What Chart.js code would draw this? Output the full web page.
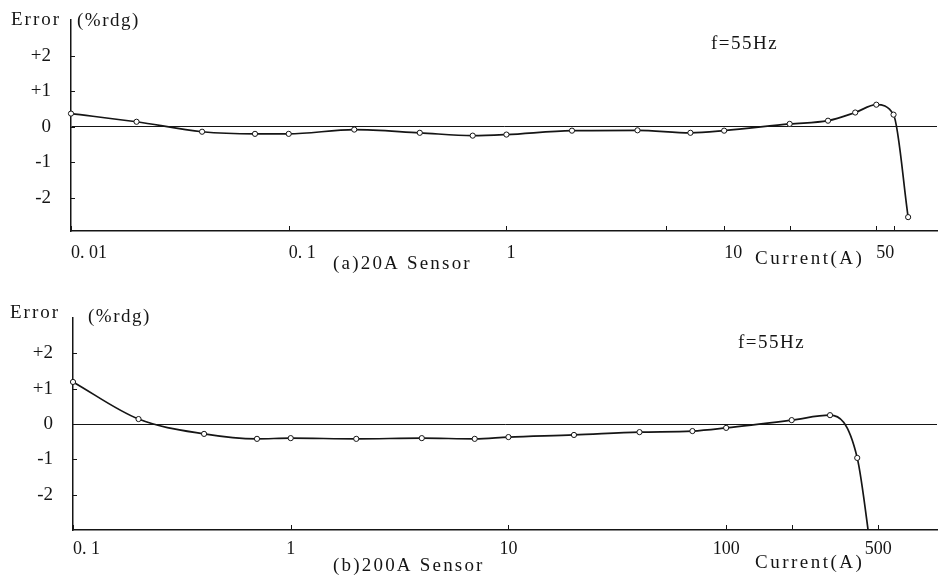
<!DOCTYPE html>
<html>
<head>
<meta charset="utf-8">
<script src="https://cdn.jsdelivr.net/npm/chart.js@4.4.1/dist/chart.umd.min.js"></script>
<style>
html, body { margin: 0; padding: 0; background: #fff; }
#wrap { position: relative; width: 942px; height: 581px; }
.box { position: absolute; left: 0; width: 942px; }
</style>
</head>
<body>
<div id="wrap">
  <div class="box" style="top:0;height:290px"><canvas id="chartA"></canvas></div>
  <div class="box" style="top:290px;height:291px"><canvas id="chartB"></canvas></div>
</div>
<script>
// (a) 20A sensor
const currentA = [0.01, 0.02, 0.04, 0.07, 0.1, 0.2, 0.4, 0.7, 1, 2, 4, 7, 10, 20, 30, 40, 50, 60, 70];
const errorA = [0.37, 0.14, -0.14, -0.2, -0.2, -0.08, -0.17, -0.25, -0.22, -0.11, -0.1, -0.17, -0.11, 0.08, 0.17, 0.4, 0.62, 0.34, -2.54];
const xTicksA = [0.01, 0.1, 1, 5.4, 10, 20, 50, 60];
const xLabelsA = {0.01: '0. 01', 0.1: '0. 1', 1: '1', 10: '10', 50: '50'};

// (b) 200A sensor (last value only carries the curve below the axis)
const currentB = [0.1, 0.2, 0.4, 0.7, 1, 2, 4, 7, 10, 20, 40, 70, 100, 200, 300, 400, 465];
const errorB = [1.19, 0.14, -0.28, -0.42, -0.4, -0.42, -0.4, -0.42, -0.37, -0.31, -0.23, -0.2, -0.11, 0.11, 0.25, -0.96, -3.7];
const xTicksB = [0.1, 1, 10, 100, 200, 500];
const xLabelsB = {0.1: '0. 1', 1: '1', 10: '10', 100: '100', 500: '500'};

const yTicks = [-2, -1, 0, 1, 2];

const FONT = '"Liberation Serif", "DejaVu Serif", serif';
const INK = '#151515';

// small inward ticks + free text labels
const extras = {
    id: 'extras',
    afterDraw(chart, args, opts) {
        const ctx = chart.ctx;
        const xs = chart.scales.x, ys = chart.scales.y;
        const a = chart.chartArea;
        ctx.save();
        ctx.strokeStyle = INK;
        ctx.lineWidth = 1;
        opts.xTicks.forEach(v => {
            const px = Math.round(xs.getPixelForValue(v)) + 0.5;
            ctx.beginPath();
            ctx.moveTo(px, a.bottom);
            ctx.lineTo(px, a.bottom - 5);
            ctx.stroke();
        });
        yTicks.forEach(v => {
            const py = Math.round(ys.getPixelForValue(v)) + 0.5;
            ctx.beginPath();
            ctx.moveTo(a.left, py);
            ctx.lineTo(a.left + 4, py);
            ctx.stroke();
        });
        ctx.fillStyle = INK;
        ctx.textBaseline = 'middle';
        ctx.textAlign = 'left';
        opts.notes.forEach(n => {
            ctx.font = n.size + 'px ' + FONT;
            ctx.letterSpacing = n.spacing + 'px';
            ctx.fillText(n.text, n.x, n.y);
        });
        ctx.restore();
    }
};

function errChart(id, xs, ys, opt) {
    const radii = xs.map((v, i) => (opt.hideLast && i === xs.length - 1) ? 0 : 2.6);
    // an unlabelled tick at the right end keeps 'inner' alignment from pushing the last label
    const scaleTicks = opt.xTicks.concat([opt.xMax]);
    const config = {
        type: 'line',
        data: {
            datasets: [{
                data: xs.map((v, i) => ({x: v, y: ys[i]})),
                borderColor: INK,
                borderWidth: 1.7,
                cubicInterpolationMode: 'monotone',
                pointRadius: radii,
                pointBackgroundColor: '#fff',
                pointBorderColor: INK,
                pointBorderWidth: 1,
                clip: {left: 5, top: 5, right: 5, bottom: 0}
            }]
        },
        options: {
            responsive: true,
            maintainAspectRatio: false,
            animation: false,
            layout: {padding: {top: opt.top, right: 0, left: 0, bottom: 0}},
            plugins: {
                legend: {display: false},
                tooltip: {enabled: false},
                extras: {xTicks: opt.xTicks, notes: opt.notes}
            },
            scales: {
                x: {
                    type: 'logarithmic',
                    min: opt.xMin,
                    max: opt.xMax,
                    grid: {display: false, drawTicks: false},
                    border: {display: true, color: INK, width: 1.5},
                    afterBuildTicks: s => { s.ticks = scaleTicks.map(v => ({value: v})); },
                    afterFit: s => { s.height = opt.xHeight; s.paddingLeft = 0; s.paddingRight = 0; },
                    ticks: {
                        autoSkip: false,
                        maxRotation: 0,
                        align: opt.xAlign,
                        padding: opt.xPad,
                        color: INK,
                        font: {family: FONT, size: 18},
                        callback: v => opt.xLabels[v] || ''
                    }
                },
                y: {
                    min: opt.yMin,
                    max: 3,
                    grid: {
                        drawTicks: false,
                        lineWidth: 1,
                        color: c => (c.tick && c.tick.value === 0) ? INK : 'rgba(0,0,0,0)'
                    },
                    border: {display: true, color: INK, width: 1.5},
                    afterBuildTicks: s => { s.ticks = yTicks.map(v => ({value: v})); },
                    afterFit: s => { s.width = opt.yWidth; s.paddingTop = 0; s.paddingBottom = 0; },
                    ticks: {
                        padding: 20,
                        color: INK,
                        font: {family: FONT, size: 19},
                        callback: v => v > 0 ? '+' + v : String(v)
                    }
                }
            }
        },
        plugins: [extras]
    };
    return new Chart(document.getElementById(id).getContext('2d'), config);
}

errChart('chartA', currentA, errorA, {
    top: 20, yMin: -2.93, yWidth: 71, xHeight: 59,
    xMin: 0.01, xMax: 95, xTicks: xTicksA, xLabels: xLabelsA,
    xAlign: 'start', xPad: 11, hideLast: false,
    notes: [
        {text: 'Error', x: 11, y: 20, size: 19, spacing: 2},
        {text: '(%rdg)', x: 77, y: 21, size: 19, spacing: 1.5},
        {text: 'f=55Hz', x: 711, y: 44, size: 19, spacing: 1.5},
        {text: 'Current(A)', x: 755, y: 259, size: 19, spacing: 2.5},
        {text: '(a)20A Sensor', x: 333, y: 264, size: 19, spacing: 2.2}
    ]
});

errChart('chartB', currentB, errorB, {
    top: 28, yMin: -3, yWidth: 73, xHeight: 51,
    xMin: 0.1, xMax: 930, xTicks: xTicksB, xLabels: xLabelsB,
    xAlign: 'inner', xPad: 8, hideLast: true,
    notes: [
        {text: 'Error', x: 10, y: 23, size: 19, spacing: 2},
        {text: '(%rdg)', x: 88, y: 27, size: 19, spacing: 1.5},
        {text: 'f=55Hz', x: 738, y: 53, size: 19, spacing: 1.5},
        {text: 'Current(A)', x: 755, y: 273, size: 19, spacing: 2.5},
        {text: '(b)200A Sensor', x: 333, y: 276, size: 19, spacing: 2.2}
    ]
});
</script>
</body>
</html>
